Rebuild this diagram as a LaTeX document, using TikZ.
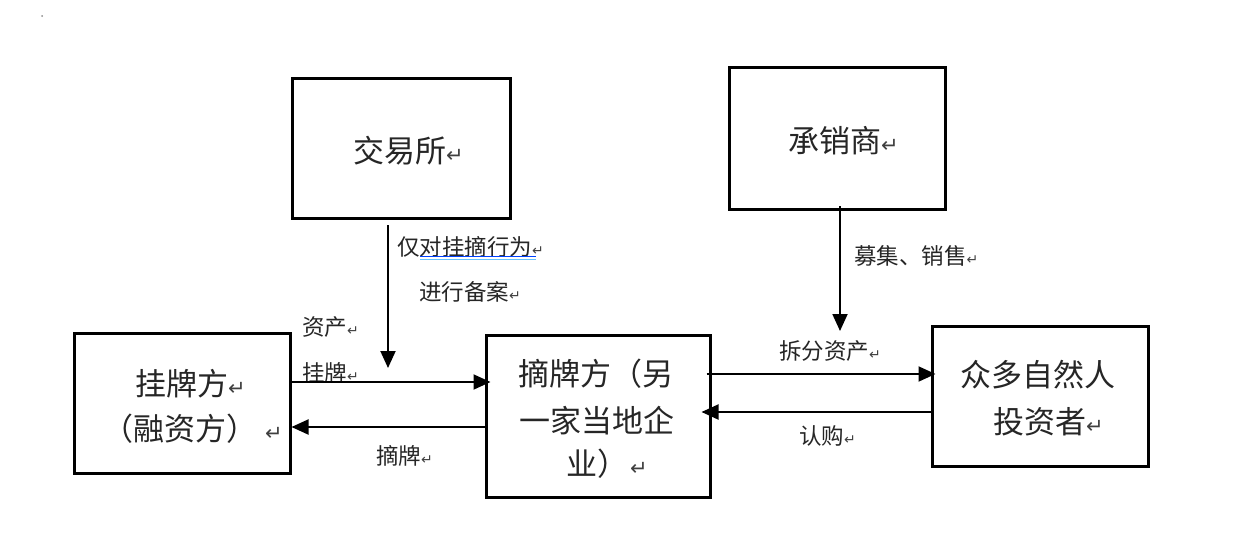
\documentclass[tikz,border=0pt]{standalone}
\usepackage{fontspec}
\setmainfont{Noto Sans CJK SC}
\newfontfamily\symf{DejaVu Sans}
\usetikzlibrary{arrows.meta}
\newcommand{\rmkbig}{{\symf\fontsize{21}{21}\selectfont\textcolor{black!75}{↵}}}
\newcommand{\rmksm}{{\symf\fontsize{14}{14}\selectfont\textcolor{black!75}{↵}}}
\begin{document}
\begin{tikzpicture}[x=1pt,y=-1pt,
  box/.style={draw, line width=3pt, inner sep=0pt},
  boxtext/.style={anchor=base west, inner sep=0pt, text=black!85, font=\fontsize{31}{31}\selectfont},
  lbl/.style={anchor=base west, inner sep=0pt, text=black!85, font=\fontsize{22.5}{22.5}\selectfont},
  arr/.style={line width=1.9pt, -{Triangle[length=17pt,width=15pt]}}]
\useasboundingbox (0,0) rectangle (1242,554);
\fill[white] (0,0) rectangle (1242,554);
\fill[black!45] (42,16) circle (1pt);
% boxes
\node[box, minimum width=218pt, minimum height=140pt] (A) at (401,148) {};
\node[box, minimum width=216pt, minimum height=142pt] (E) at (837,138) {};
\node[box, minimum width=216pt, minimum height=140pt] (B) at (182,403) {};
\node[box, minimum width=224pt, minimum height=162pt] (C) at (598,416) {};
\node[box, minimum width=216pt, minimum height=140pt] (D) at (1040,396) {};
% box texts
\node[boxtext] (tA) at (353,162) {交易所\rmkbig};
\node[boxtext] (tE) at (788,152) {承销商\rmkbig};
\node[boxtext] (tB1) at (135,395) {挂牌方\rmkbig};
\node[boxtext] (tB2) at (102,440) {（融资方）\hspace{8pt}\rmkbig};
\node[boxtext] (tC1) at (518,385) {摘牌方（另};
\node[boxtext] (tC2) at (519,432) {一家当地企};
\node[boxtext] (tC3) at (566,475) {业）\hspace{2pt}\rmkbig};
\node[boxtext] (tD1) at (960,386) {众多自然人};
\node[boxtext] (tD2) at (993,433) {投资者\rmkbig};
% labels
\node[lbl] (l1) at (397,255) {仅对挂摘行为\rmksm};
\draw[blue!75!cyan, line width=1.3pt] (420,256.5) -- (536,256.5);
\draw[blue!40!cyan!60, line width=1.1pt] (420,259.5) -- (536,259.5);
\node[lbl] (l2) at (419,300) {进行备案\rmksm};
\node[lbl] (l3) at (302,335) {资产\rmksm};
\node[lbl] (l4) at (302,381) {挂牌\rmksm};
\node[lbl] (l5) at (376,464) {摘牌\rmksm};
\node[lbl] (l6) at (854,264) {募集、销售\rmksm};
\node[lbl] (l7) at (779,359) {拆分资产\rmksm};
\node[lbl] (l8) at (799,444) {认购\rmksm};
% connectors
\coordinate (v1s) at (388,225);
\coordinate (v1e) at (388,368);
\draw[arr] (v1s) -- (v1e);
\coordinate (v2s) at (840,206);
\coordinate (v2e) at (840,331);
\draw[arr] (v2s) -- (v2e);
\coordinate (h1) at (0,382);
\coordinate (h2) at (0,427);
\coordinate (h3) at (0,374);
\coordinate (h4) at (0,412);
\draw[arr, shorten >=-6pt] (B.east |- h1) -- (C.west |- h1);
\draw[arr, shorten <=-3pt] (C.west |- h2) -- (B.east |- h2);
\draw[arr, shorten <=-5pt, shorten >=-5pt] (C.east |- h3) -- (D.west |- h3);
\draw[arr, shorten >=-10pt] (D.west |- h4) -- (C.east |- h4);
\end{tikzpicture}
\end{document}
